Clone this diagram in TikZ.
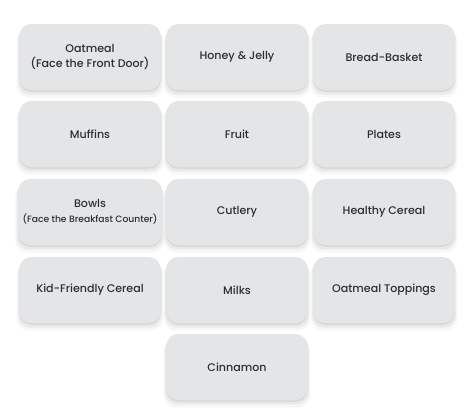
\documentclass[tikz,border=0pt]{standalone}
\usepackage{fontspec}
\setmainfont{Poppins}[UprightFont={* Medium}]
\usetikzlibrary{shadows}

\definecolor{tilegray}{HTML}{E4E5E7}
\definecolor{labelgray}{HTML}{2E2E2E}

\tikzset{
  station/.style={rectangle, rounded corners=9pt, fill=tilegray,
    minimum width=106pt, minimum height=49.5pt, align=center,
    text=labelgray, font=\fontsize{8.3}{11}\selectfont,
    drop shadow={shadow xshift=0pt, shadow yshift=-4.5pt, shadow scale=1.04, opacity=.03, fill=black},
    drop shadow={shadow xshift=0pt, shadow yshift=-3pt, shadow scale=1.02, opacity=.05, fill=black},
    drop shadow={shadow xshift=0pt, shadow yshift=-1.5pt, opacity=.07, fill=black}}
}

\begin{document}
\begin{tikzpicture}[x=0.75pt, y=-0.75pt]
  \useasboundingbox (0,0) rectangle (475,419);

  % first row
  \node[station] (oatmeal) at (90,57) {Oatmeal\\(Face the Front Door)};
  \node[station] (honey) at (237,57) {Honey \& Jelly};
  \node[station] (bread) at (384,57) {Bread-Basket};

  % second row
  \node[station] (muffins) at (90,134) {Muffins};
  \node[station] (fruit) at (237,134) {Fruit};
  \node[station] (plates) at (384,134) {Plates};

  % third row
  \node[station] (bowls) at (90,212) {Bowls\\{\fontsize{6.9}{9}\selectfont (Face the Breakfast Counter)}};
  \node[station] (cutlery) at (237,212) {Cutlery};
  \node[station] (healthy) at (384,212) {Healthy Cereal};

  % fourth row
  \node[station] (kid) at (90,290) {Kid-Friendly Cereal};
  \node[station] (milks) at (237,290) {Milks};
  \node[station] (toppings) at (384,290) {Oatmeal Toppings};

  % last row
  \node[station] (cinnamon) at (237,367) {Cinnamon};
\end{tikzpicture}
\end{document}
